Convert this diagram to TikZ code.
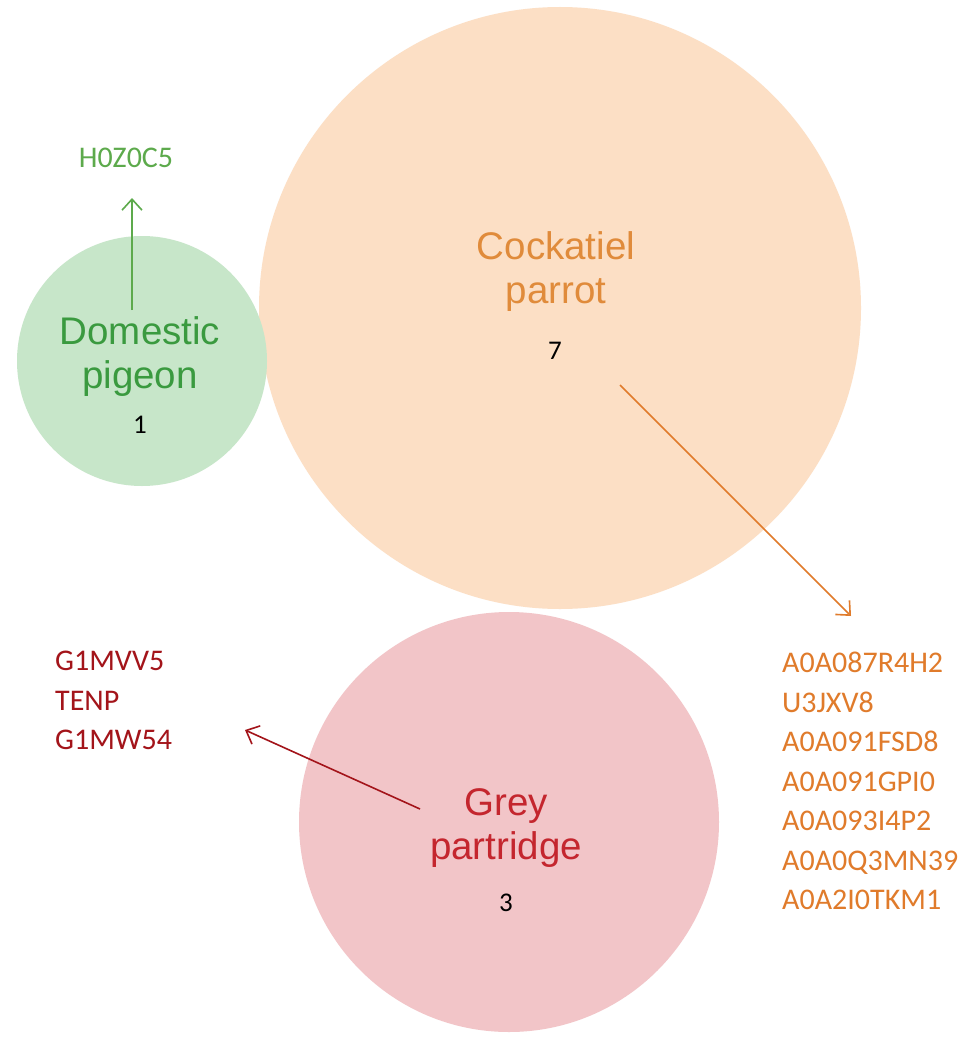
\documentclass[tikz,border=0pt]{standalone}
\usepackage{fontspec}
\setmainfont{Liberation Sans}
\newfontfamily\calib{Carlito}
\usetikzlibrary{arrows.meta}
\definecolor{gfill}{HTML}{C7E6C9}
\definecolor{ofill}{HTML}{FCDFC5}
\definecolor{pfill}{HTML}{F2C5C8}
\definecolor{gtext}{HTML}{3A9A3F}
\definecolor{glist}{HTML}{5DAA4C}
\definecolor{otext}{HTML}{E08B3B}
\definecolor{olist}{HTML}{E07B2B}
\definecolor{rtext}{HTML}{C4262E}
\definecolor{rlist}{HTML}{A3141A}
\tikzset{
  venn/.style={circle, inner sep=0pt, draw=none},
  lab/.style={font=\fontsize{38.5}{44}\selectfont, align=center, inner sep=0pt},
  num/.style={font=\calib\fontsize{27}{30}\selectfont, text=black, inner sep=0pt},
  idlist/.style={font=\calib\fontsize{30}{39.5}\selectfont, align=left, inner sep=0pt, anchor=north west},
  arr/.style={line width=1.6pt, -{Straight Barb[length=11pt,width=20pt,line width=1.6pt]}}
}
\begin{document}
\begin{tikzpicture}[x=1pt,y=-1pt]
\useasboundingbox (0,0) rectangle (973,1038);
\fill[white] (0,0) rectangle (973,1038);
% circles
\node[venn, fill=ofill, minimum size=602pt] (cock) at (560,308) {};
\node[venn, fill=gfill, minimum size=250pt] (pig) at (142,361) {};
\node[venn, fill=pfill, minimum size=420pt] (grey) at (509,822) {};
% labels
\node[lab, text=gtext] (pigl) at (140,357) {Domestic\\pigeon};
\node[num] (pign) at (140,425) {1};
\node[lab, text=otext] (cockl) at (556,272) {Cockatiel\\parrot};
\node[num] (cockn) at (555,351) {7};
\node[lab, text=rtext] (greyl) at (506,828) {Grey\\partridge};
\node[num] (greyn) at (506,903) {3};
% lists
\node[font=\calib\fontsize{30}{34}\selectfont, text=glist, inner sep=0pt] (plist) at (126,158) {H0Z0C5};
\node[idlist, text=olist] (olst) at (782,652) {A0A087R4H2\\U3JXV8\\A0A091FSD8\\A0A091GPI0\\A0A093I4P2\\A0A0Q3MN39\\A0A2I0TKM1};
\node[idlist, text=rlist] (rlst) at (55,651) {G1MVV5\\TENP\\G1MW54};
% arrows
\coordinate (pa1) at (132,310);
\coordinate (pa2) at (132,198);
\coordinate (oa1) at (620,385);
\coordinate (oa2) at (851,616);
\coordinate (ra1) at (420,809);
\coordinate (ra2) at (245,730);
\draw[arr, draw=glist] (pa1) -- (pa2);
\draw[arr, draw=olist] (oa1) -- (oa2);
\draw[arr, draw=rlist] (ra1) -- (ra2);
\end{tikzpicture}
\end{document}
